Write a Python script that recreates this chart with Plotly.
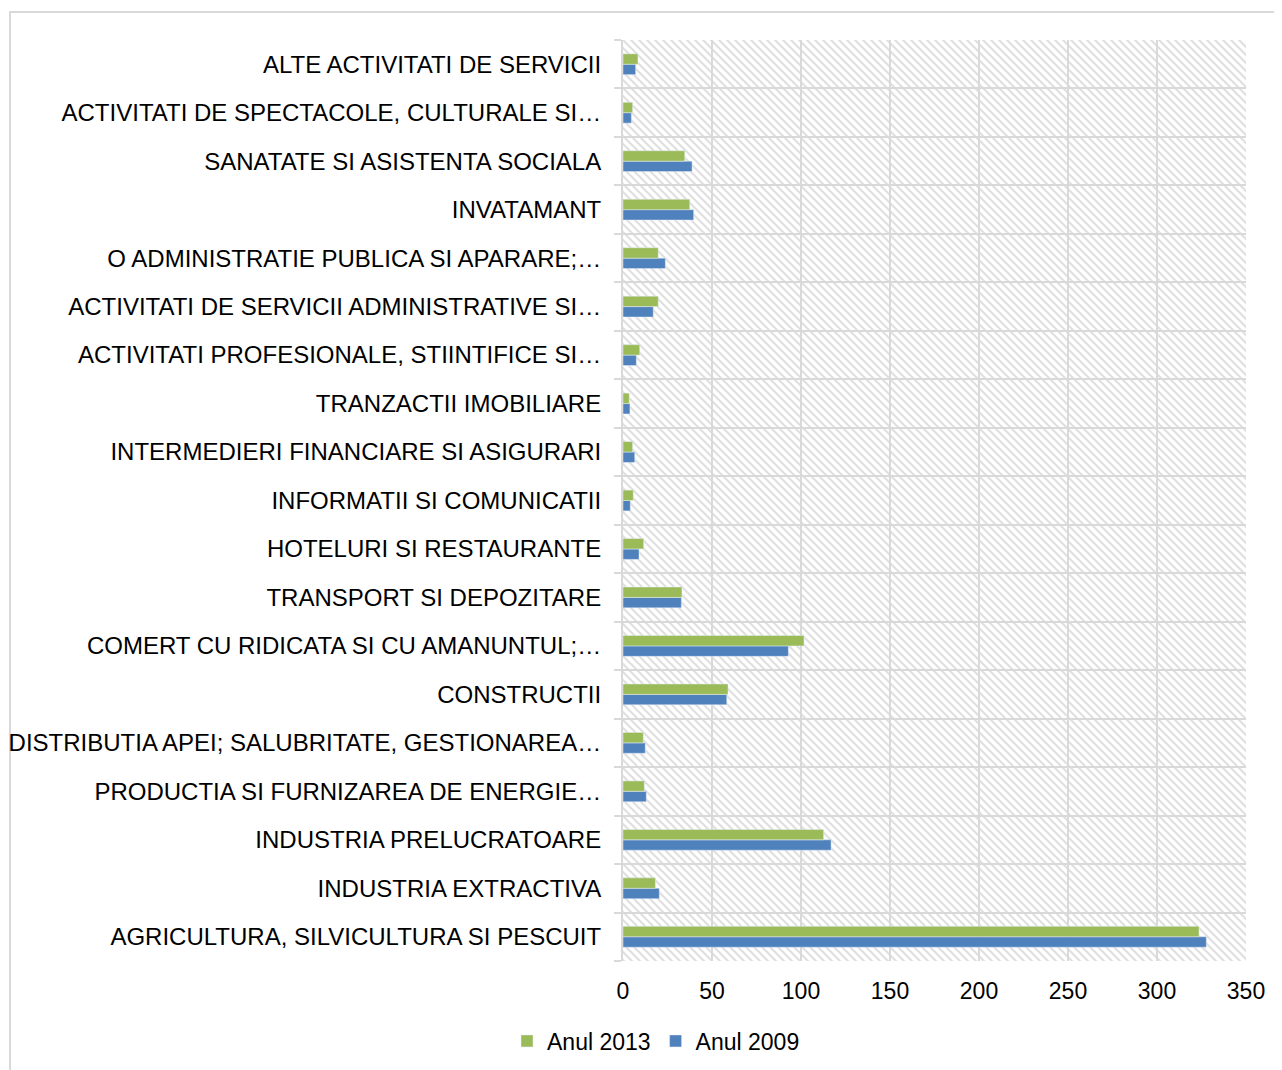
import base64
import plotly.graph_objects as go

# categories, bottom to top (plotly draws the first category at the bottom)
categories = [
    "AGRICULTURA, SILVICULTURA SI PESCUIT",
    "INDUSTRIA EXTRACTIVA",
    "INDUSTRIA PRELUCRATOARE",
    "PRODUCTIA SI FURNIZAREA DE ENERGIE…",
    "DISTRIBUTIA APEI; SALUBRITATE, GESTIONAREA…",
    "CONSTRUCTII",
    "COMERT CU RIDICATA SI CU AMANUNTUL;…",
    "TRANSPORT SI DEPOZITARE",
    "HOTELURI SI RESTAURANTE",
    "INFORMATII SI COMUNICATII",
    "INTERMEDIERI FINANCIARE SI ASIGURARI",
    "TRANZACTII IMOBILIARE",
    "ACTIVITATI PROFESIONALE, STIINTIFICE SI…",
    "ACTIVITATI DE SERVICII ADMINISTRATIVE SI…",
    "O ADMINISTRATIE PUBLICA SI APARARE;…",
    "INVATAMANT",
    "SANATATE SI ASISTENTA SOCIALA",
    "ACTIVITATI DE SPECTACOLE, CULTURALE SI…",
    "ALTE ACTIVITATI DE SERVICII",
]

anul_2013 = [323.6, 18.2, 112.7, 12.0, 11.4, 59.0, 101.7, 33.1, 11.6, 5.8,
             5.4, 3.5, 9.4, 19.8, 19.8, 37.5, 34.7, 5.4, 8.4]
anul_2009 = [327.7, 20.4, 116.9, 13.1, 12.5, 58.3, 92.9, 32.8, 9.0, 4.1,
             6.6, 3.9, 7.5, 17.0, 23.8, 39.7, 38.8, 4.7, 7.1]

x_ticks = [0, 50, 100, 150, 200, 250, 300, 350]

GRID = "#d9d9d9"
FONT = "Liberation Sans, Arial, sans-serif"

# the page puts the figure 8px in from the top-left corner
OFF = 8
L, T, PW, PH = 623 - OFF, 40 - OFF, 623, 921

# hatched plot-area background (wide downward diagonal, like the Excel fill)
svg = (
    f'<svg xmlns="http://www.w3.org/2000/svg" width="{PW}" height="{PH}" '
    f'viewBox="0 0 {PW} {PH}" preserveAspectRatio="none">'
    '<defs><pattern id="h" width="8" height="8" patternUnits="userSpaceOnUse">'
    '<path d="M-1,-1 L9,9 M-1,7 L1,9 M7,-1 L9,1" stroke="#e0e0e0" stroke-width="2.2"/>'
    '</pattern></defs>'
    f'<rect width="{PW}" height="{PH}" fill="white"/>'
    f'<rect width="{PW}" height="{PH}" fill="url(#h)"/></svg>'
)
svg_src = "data:image/svg+xml;base64," + base64.b64encode(svg.encode()).decode()

fig = go.Figure()

fig.add_trace(go.Bar(
    y=categories, x=anul_2009, orientation="h", name="Anul 2009",
    marker=dict(color="#4f81bd"),
))
fig.add_trace(go.Bar(
    y=categories, x=anul_2013, orientation="h", name="Anul 2013",
    marker=dict(color="#9bbb59"),
))

fig.add_layout_image(dict(
    source=svg_src, xref="paper", yref="paper", x=0, y=1,
    sizex=1, sizey=1, xanchor="left", yanchor="top",
    sizing="stretch", layer="below",
))

# outer chart border (only top and left edges visible in the frame)
fig.add_shape(
    type="rect", xref="paper", yref="paper",
    x0=(10 - 623) / PW, x1=(1300 - 623) / PW,
    y0=-(1090 - 961) / PH, y1=1 + (40 - 12) / PH,
    line=dict(color=GRID, width=2), fillcolor="rgba(0,0,0,0)", layer="below",
)

fig.update_layout(
    width=1282 - OFF, height=1070 - OFF,
    margin=dict(l=L, r=36, t=T, b=109, autoexpand=False),
    paper_bgcolor="white", plot_bgcolor="rgba(0,0,0,0)",
    barmode="group", bargap=0.57, bargroupgap=0,
    font=dict(family=FONT, size=23, color="#000000"),
    showlegend=True,
    legend=dict(
        orientation="h", traceorder="reversed",
        x=(656 - 623) / PW, xanchor="center",
        y=-(1041 - 961) / PH, yanchor="middle",
        font=dict(size=23), itemwidth=30,
    ),
    xaxis=dict(
        range=[0, 350], tickvals=x_ticks, showgrid=True,
        gridcolor=GRID, gridwidth=2, zeroline=False,
        showline=False, ticks="", ticklabelstandoff=14,
        tickfont=dict(size=23),
    ),
    yaxis=dict(
        type="category", tickson="boundaries", showgrid=True,
        gridcolor=GRID, gridwidth=2, showline=True, linecolor=GRID,
        linewidth=2, ticks="outside", ticklen=7, tickwidth=2,
        tickcolor=GRID, ticklabelstandoff=15, tickfont=dict(size=24),
    ),
)

fig.write_html("out.html")
